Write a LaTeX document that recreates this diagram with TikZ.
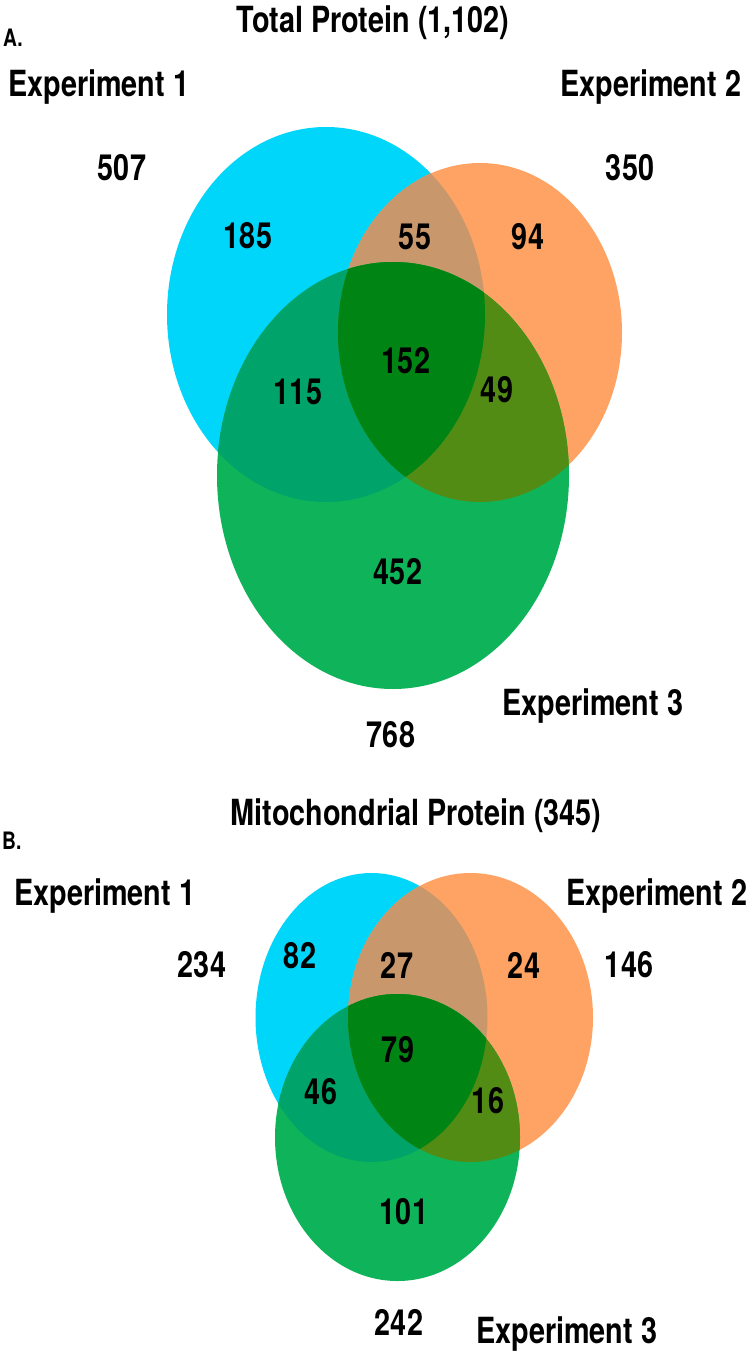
\documentclass[tikz,border=0pt]{standalone}
\usepackage{fontspec}
\setmainfont{TeX Gyre Heros}[FakeStretch=0.8]
\definecolor{cC}{RGB}{0,214,250}
\definecolor{cO}{RGB}{255,163,100}
\definecolor{cCO}{RGB}{200,152,108}
\definecolor{cG}{RGB}{15,180,90}
\definecolor{cCG}{RGB}{0,163,105}
\definecolor{cOG}{RGB}{82,140,20}
\definecolor{cCOG}{RGB}{0,133,20}
\tikzset{
  num/.style={font=\fontsize{36}{40}\selectfont\bfseries, inner sep=0pt},
  lab/.style={font=\fontsize{36}{40}\selectfont\bfseries, inner sep=0pt, anchor=base west},
  ttl/.style={font=\fontsize{36}{40}\selectfont\bfseries, inner sep=0pt, anchor=base},
  pan/.style={font=\fontsize{24}{28}\selectfont\bfseries, inner sep=0pt, anchor=base west}
}
\begin{document}
\begin{tikzpicture}[x=1pt,y=-1pt]
\useasboundingbox (0,0) rectangle (750,1351);
\fill[white] (0,0) rectangle (750,1351);

% ---------- Panel A ----------
\fill[cC] (326,314.5) ellipse [x radius=159pt, y radius=187.5pt];
\fill[cO] (480,332.5) ellipse [x radius=142pt, y radius=169.5pt];
\begin{scope}
  \clip (326,314.5) ellipse [x radius=159pt, y radius=187.5pt];
  \fill[cCO] (480,332.5) ellipse [x radius=142pt, y radius=169.5pt];
\end{scope}
\fill[cG] (393,475.5) ellipse [x radius=176pt, y radius=213.5pt];
\begin{scope}
  \clip (393,475.5) ellipse [x radius=176pt, y radius=213.5pt];
  \fill[cCG] (326,314.5) ellipse [x radius=159pt, y radius=187.5pt];
  \fill[cOG] (480,332.5) ellipse [x radius=142pt, y radius=169.5pt];
  \clip (326,314.5) ellipse [x radius=159pt, y radius=187.5pt];
  \fill[cCOG] (480,332.5) ellipse [x radius=142pt, y radius=169.5pt];
\end{scope}

\node[ttl] (tA) at (373,33) {Total Protein (1,102)};
\node[pan] (pA) at (3,47) {A.};
\node[lab] (e1A) at (8,97) {Experiment 1};
\node[lab] (e2A) at (560,97) {Experiment 2};
\node[lab] (e3A) at (502,715) {Experiment 3};
\node[num] (t1A) at (122,168) {507};
\node[num] (t2A) at (630,168) {350};
\node[num] (t3A) at (391,735) {768};
\node[num] (n1A) at (248,236) {185};
\node[num] (n2A) at (415,237) {55};
\node[num] (n3A) at (528,237) {94};
\node[num] (n4A) at (298,392) {115};
\node[num] (n5A) at (406,361) {152};
\node[num] (n6A) at (497,390) {49};
\node[num] (n7A) at (398,572) {452};

% ---------- Panel B ----------
\fill[cC] (371.5,1017.5) ellipse [x radius=116pt, y radius=144.5pt];
\fill[cO] (470.5,1017.5) ellipse [x radius=122.5pt, y radius=144.5pt];
\begin{scope}
  \clip (371.5,1017.5) ellipse [x radius=116pt, y radius=144.5pt];
  \fill[cCO] (470.5,1017.5) ellipse [x radius=122.5pt, y radius=144.5pt];
\end{scope}
\fill[cG] (397.5,1137.5) ellipse [x radius=122.5pt, y radius=143.5pt];
\begin{scope}
  \clip (397.5,1137.5) ellipse [x radius=122.5pt, y radius=143.5pt];
  \fill[cCG] (371.5,1017.5) ellipse [x radius=116pt, y radius=144.5pt];
  \fill[cOG] (470.5,1017.5) ellipse [x radius=122.5pt, y radius=144.5pt];
  \clip (371.5,1017.5) ellipse [x radius=116pt, y radius=144.5pt];
  \fill[cCOG] (470.5,1017.5) ellipse [x radius=122.5pt, y radius=144.5pt];
\end{scope}

\node[ttl] (tB) at (416,825) {Mitochondrial Protein (345)};
\node[pan] (pB) at (2,849) {B.};
\node[lab] (e1B) at (14,905) {Experiment 1};
\node[lab] (e2B) at (566,905) {Experiment 2};
\node[lab] (e3B) at (476,1343) {Experiment 3};
\node[num] (t1B) at (202,965) {234};
\node[num] (t2B) at (629,965) {146};
\node[num] (t3B) at (399,1322) {242};
\node[num] (n1B) at (300,956) {82};
\node[num] (n2B) at (397,965) {27};
\node[num] (n3B) at (524,965) {24};
\node[num] (n4B) at (321,1092) {46};
\node[num] (n5B) at (398,1050) {79};
\node[num] (n6B) at (488,1101) {16};
\node[num] (n7B) at (404,1212) {101};
\end{tikzpicture}
\end{document}
